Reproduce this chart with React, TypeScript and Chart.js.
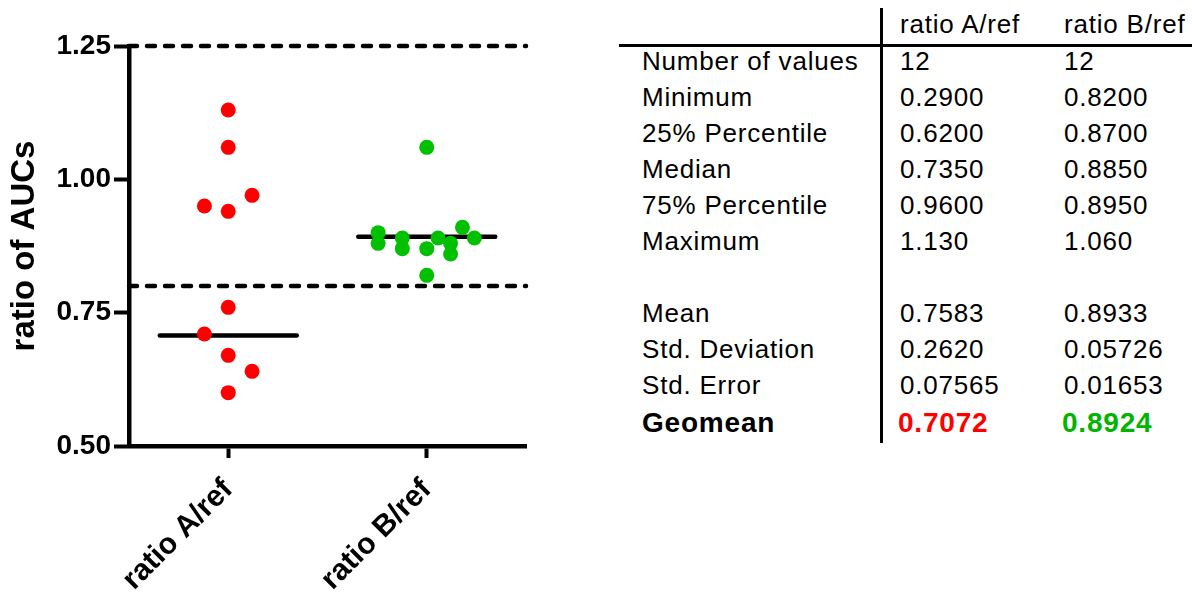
import React, { useEffect, useRef } from "react";
import { Chart, registerables } from "chart.js";

Chart.register(...registerables);

// ---------- data ----------
const categories = ["ratio A/ref", "ratio B/ref"];
const yMin = 0.5;
const yMax = 1.25;
const yStep = 0.25;

const valuesA = [1.13, 1.06, 0.95, 0.94, 0.97, 0.76, 0.71, 0.67, 0.64, 0.6];
const jitterA = [0, 0, -0.12, 0, 0.12, 0, -0.12, 0, 0.12, 0];
const valuesB = [1.06, 0.9, 0.88, 0.89, 0.87, 0.87, 0.82, 0.89, 0.88, 0.86, 0.91, 0.89];
const jitterB = [0, -0.245, -0.245, -0.123, -0.123, 0, 0, 0.057, 0.12, 0.12, 0.18, 0.24];
const geomeans = [0.7072, 0.8924];
const limitLines = [1.25, 0.8];

const statHeaders = ["ratio A/ref", "ratio B/ref"];
const statLabels = [
  "Number of values",
  "Minimum",
  "25% Percentile",
  "Median",
  "75% Percentile",
  "Maximum",
  "",
  "Mean",
  "Std. Deviation",
  "Std. Error",
];
const statA = ["12", "0.2900", "0.6200", "0.7350", "0.9600", "1.130", "", "0.7583", "0.2620", "0.07565"];
const statB = ["12", "0.8200", "0.8700", "0.8850", "0.8950", "1.060", "", "0.8933", "0.05726", "0.01653"];
const geomeanLabel = "Geomean";
const geomeanText = ["0.7072", "0.8924"];

const RED = "#ff0000";
const GREEN = "#00c000";
const GREEN_TEXT = "#00b400";
const FONT = "'Liberation Sans', Arial, Helvetica, sans-serif";

function ScatterChart() {
  const ref = useRef<HTMLCanvasElement | null>(null);
  useEffect(() => {
    if (!ref.current) return;
    Chart.defaults.font.family = FONT;
    Chart.defaults.color = "#000";
    const half = 0.345;
    const centers = categories.map((_, i) => i + 0.5);
    const datasets: any[] = [];
    limitLines.forEach((v) => {
      datasets.push({
        data: [
          { x: 0, y: v },
          { x: 2, y: v },
        ],
        showLine: true,
        borderColor: "#000",
        borderWidth: 4.5,
        borderDash: [8, 10],
        borderCapStyle: "round",
        pointRadius: 0,
        clip: false,
        order: 2,
      });
    });
    geomeans.forEach((g, i) => {
      datasets.push({
        data: [
          { x: centers[i] - half, y: g },
          { x: centers[i] + half, y: g },
        ],
        showLine: true,
        borderColor: "#000",
        borderWidth: 4.5,
        borderCapStyle: "round",
        pointRadius: 0,
        clip: false,
        order: 1,
      });
    });
    datasets.push({
      data: valuesA.map((v, i) => ({ x: centers[0] + jitterA[i], y: v })),
      backgroundColor: RED,
      borderWidth: 0,
      pointRadius: 7.5,
      clip: false,
      order: 0,
    });
    datasets.push({
      data: valuesB.map((v, i) => ({ x: centers[1] + jitterB[i], y: v })),
      backgroundColor: GREEN,
      borderWidth: 0,
      pointRadius: 7.5,
      clip: false,
      order: 0,
    });

    const chart = new Chart(ref.current, {
      type: "scatter",
      data: { datasets },
      options: {
        animation: false,
        responsive: false,
        events: [],
        layout: { padding: { top: 46, right: 74, bottom: 0, left: 0 } },
        plugins: { legend: { display: false }, tooltip: { enabled: false } },
        scales: {
          x: {
            type: "linear",
            min: 0,
            max: 2,
            afterFit: (s: any) => {
              s.height = 147;
            },
            afterBuildTicks: (s: any) => {
              s.ticks = centers.map((c) => ({ value: c }));
            },
            ticks: {
              autoSkip: false,
              minRotation: 45,
              maxRotation: 45,
              padding: 14,
              color: "#000",
              font: { size: 30, weight: "bold", family: FONT },
              callback: (v: any) => {
                const idx = centers.indexOf(Number(v));
                return idx >= 0 ? categories[idx] : "";
              },
            },
            grid: {
              drawOnChartArea: false,
              drawTicks: true,
              tickLength: 12,
              tickWidth: 4,
              tickColor: "#000",
            },
            border: { display: true, color: "#000", width: 4.5 },
          },
          y: {
            type: "linear",
            min: yMin,
            max: yMax,
            afterFit: (s: any) => {
              s.width = 129;
            },
            ticks: {
              stepSize: yStep,
              padding: 3,
              color: "#000",
              font: { size: 28, weight: "bold", family: FONT },
              callback: (v: any) => Number(v).toFixed(2),
            },
            grid: {
              drawOnChartArea: false,
              drawTicks: true,
              tickLength: 15,
              tickWidth: 4,
              tickColor: "#000",
            },
            border: { display: true, color: "#000", width: 4.5 },
            title: {
              display: true,
              text: "ratio of AUCs",
              color: "#000",
              font: { size: 33, weight: "bold", family: FONT },
              padding: { top: 5, bottom: 0 },
            },
          },
        },
      },
    } as any);
    return () => chart.destroy();
  }, []);
  return <canvas ref={ref} width={600} height={593} style={{ width: 600, height: 593, display: "block" }} />;
}

function StatsTable() {
  const labelX = 642;
  const colX = [900, 1064];
  const base = { position: "absolute" as const, fontFamily: FONT, lineHeight: 1, whiteSpace: "nowrap" as const, letterSpacing: "0.8px", color: "#000" };
  const fs = 26;
  const asc = 0.8465;
  const items: React.ReactNode[] = [];
  statHeaders.forEach((h, i) => {
    items.push(
      <div key={"h" + i} style={{ ...base, fontSize: fs, left: colX[i], top: 33 - fs * asc }}>
        {h}
      </div>
    );
  });
  statLabels.forEach((lab, r) => {
    const baseline = 70 + 36 * r;
    const cells = [lab, statA[r], statB[r]];
    const xs = [labelX, colX[0], colX[1]];
    cells.forEach((t, c) => {
      if (!t) return;
      items.push(
        <div key={`r${r}c${c}`} style={{ ...base, fontSize: fs, left: xs[c], top: baseline - fs * asc }}>
          {t}
        </div>
      );
    });
  });
  const gfs = 28;
  const gBase = 433;
  items.push(
    <div key="gl" style={{ ...base, fontSize: gfs, fontWeight: "bold", left: labelX, top: gBase - gfs * asc }}>
      {geomeanLabel}
    </div>
  );
  geomeanText.forEach((t, i) => {
    items.push(
      <div
        key={"g" + i}
        style={{ ...base, fontSize: gfs, fontWeight: "bold", left: colX[i] - 2, top: gBase - gfs * asc, color: i === 0 ? RED : GREEN_TEXT }}
      >
        {t}
      </div>
    );
  });
  return (
    <>
      <div style={{ position: "absolute", left: 619, top: 44, width: 573, height: 3, background: "#000" }} />
      <div style={{ position: "absolute", left: 880, top: 8, width: 3, height: 435, background: "#000" }} />
      {items}
    </>
  );
}

export default function App() {
  return (
    <div style={{ position: "fixed", left: 0, top: 0, width: 1192, height: 593, background: "#fff", overflow: "hidden" }}>
      <div style={{ position: "absolute", left: 0, top: 0 }}>
        <ScatterChart />
      </div>
      <StatsTable />
    </div>
  );
}
